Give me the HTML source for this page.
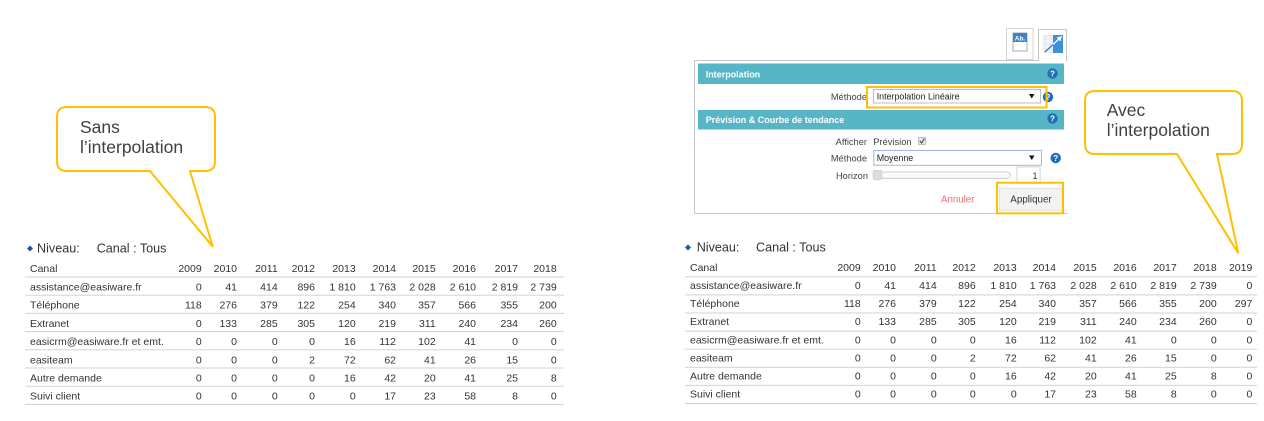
<!DOCTYPE html>
<html><head><meta charset="utf-8">
<style>
html,body{margin:0;padding:0;background:#fff;}
svg{display:block;}
text{font-family:"Liberation Sans",Arial,sans-serif;}
</style></head>
<body>
<svg width="1264" height="421" viewBox="0 0 1264 421" xmlns="http://www.w3.org/2000/svg">
<rect width="1264" height="421" fill="#fff"/>

<!-- ============ LEFT CALLOUT ============ -->
<path d="M67,107 H205 Q215,107 215,117 V161 Q215,171 205,171 H190 L212.7,246.7 L150,171 H67 Q57,171 57,161 V117 Q57,107 67,107 Z" fill="#fff" stroke="#FFC000" stroke-width="2"/>
<text x="80" y="133" font-size="17.5" fill="#404040">Sans</text>
<text x="80" y="153" font-size="17.5" fill="#404040">l’interpolation</text>

<!-- ============ LEFT TABLE ============ -->
<path d="M30,245.5 L33,248.5 L30,251.5 L27,248.5 Z" fill="#2255aa"/>
<text x="37" y="252.5" font-size="12.6" fill="#333">Niveau:</text>
<text x="96.7" y="252.5" font-size="12.6" fill="#333">Canal : Tous</text>

<g fill="#d2d2d2">
<rect x="25" y="276.5" width="539" height="1"/>
<rect x="25" y="294.7" width="539" height="1"/>
<rect x="25" y="312.9" width="539" height="1"/>
<rect x="25" y="331.1" width="539" height="1"/>
<rect x="25" y="349.3" width="539" height="1"/>
<rect x="25" y="367.5" width="539" height="1"/>
<rect x="25" y="385.7" width="539" height="1"/>
<rect x="25" y="403.9" width="539" height="1"/>
</g>

<g font-size="10.5" fill="#333">
<text x="30" y="272">Canal</text>
<text x="30" y="290.5">assistance@easiware.fr</text>
<text x="30" y="308.7">Téléphone</text>
<text x="30" y="326.9">Extranet</text>
<text x="30" y="345.1">easicrm@easiware.fr et emt.</text>
<text x="30" y="363.3">easiteam</text>
<text x="30" y="381.5">Autre demande</text>
<text x="30" y="399.7">Suivi client</text>
</g>
<g font-size="10.5" fill="#333" text-anchor="end">
<text y="272"><tspan x="201.7">2009</tspan><tspan x="237">2010</tspan><tspan x="277.7">2011</tspan><tspan x="315">2012</tspan><tspan x="355.7">2013</tspan><tspan x="396">2014</tspan><tspan x="435.7">2015</tspan><tspan x="476">2016</tspan><tspan x="518">2017</tspan><tspan x="556.7">2018</tspan></text>
<text y="290.5"><tspan x="201.7">0</tspan><tspan x="237">41</tspan><tspan x="277.7">414</tspan><tspan x="315">896</tspan><tspan x="355.7">1&#160;810</tspan><tspan x="396">1&#160;763</tspan><tspan x="435.7">2&#160;028</tspan><tspan x="476">2&#160;610</tspan><tspan x="518">2&#160;819</tspan><tspan x="556.7">2&#160;739</tspan></text>
<text y="308.7"><tspan x="201.7">118</tspan><tspan x="237">276</tspan><tspan x="277.7">379</tspan><tspan x="315">122</tspan><tspan x="355.7">254</tspan><tspan x="396">340</tspan><tspan x="435.7">357</tspan><tspan x="476">566</tspan><tspan x="518">355</tspan><tspan x="556.7">200</tspan></text>
<text y="326.9"><tspan x="201.7">0</tspan><tspan x="237">133</tspan><tspan x="277.7">285</tspan><tspan x="315">305</tspan><tspan x="355.7">120</tspan><tspan x="396">219</tspan><tspan x="435.7">311</tspan><tspan x="476">240</tspan><tspan x="518">234</tspan><tspan x="556.7">260</tspan></text>
<text y="345.1"><tspan x="201.7">0</tspan><tspan x="237">0</tspan><tspan x="277.7">0</tspan><tspan x="315">0</tspan><tspan x="355.7">16</tspan><tspan x="396">112</tspan><tspan x="435.7">102</tspan><tspan x="476">41</tspan><tspan x="518">0</tspan><tspan x="556.7">0</tspan></text>
<text y="363.3"><tspan x="201.7">0</tspan><tspan x="237">0</tspan><tspan x="277.7">0</tspan><tspan x="315">2</tspan><tspan x="355.7">72</tspan><tspan x="396">62</tspan><tspan x="435.7">41</tspan><tspan x="476">26</tspan><tspan x="518">15</tspan><tspan x="556.7">0</tspan></text>
<text y="381.5"><tspan x="201.7">0</tspan><tspan x="237">0</tspan><tspan x="277.7">0</tspan><tspan x="315">0</tspan><tspan x="355.7">16</tspan><tspan x="396">42</tspan><tspan x="435.7">20</tspan><tspan x="476">41</tspan><tspan x="518">25</tspan><tspan x="556.7">8</tspan></text>
<text y="399.7"><tspan x="201.7">0</tspan><tspan x="237">0</tspan><tspan x="277.7">0</tspan><tspan x="315">0</tspan><tspan x="355.7">0</tspan><tspan x="396">17</tspan><tspan x="435.7">23</tspan><tspan x="476">58</tspan><tspan x="518">8</tspan><tspan x="556.7">0</tspan></text>
</g>

<!-- ============ DIALOG ============ -->
<!-- tabs -->
<rect x="1006.5" y="28.5" width="26.5" height="31" fill="#fff" stroke="#d6d6d6"/>
<rect x="1013" y="33" width="14" height="18" fill="#fff" stroke="#9a9a9a" stroke-width="0.8"/>
<rect x="1013" y="33" width="14" height="9" fill="#3a85c9"/>
<text x="1020" y="40.5" font-size="6.5" font-weight="bold" fill="#fff" text-anchor="middle">Ab.</text>

<!-- panel -->
<path d="M1066.5,60.5 H1068" stroke="#c8c8c8"/>
<path d="M694.5,214 V60.5 H1038.5" fill="none" stroke="#c8c8c8"/>
<path d="M694.5,213.5 H1068" stroke="#c8c8c8"/>
<path d="M1038.5,60.5 V29.5 H1066.5 V60.5" fill="#fff" stroke="#c8c8c8"/>
<rect x="1043" y="35" width="20" height="18" fill="#e6ecf2"/>
<g stroke="#fff" stroke-width="0.8">
<line x1="1043" y1="41" x2="1053" y2="41"/><line x1="1043" y1="47" x2="1053" y2="47"/>
<line x1="1048" y1="35" x2="1048" y2="53"/>
</g>
<rect x="1053" y="35" width="10" height="18" fill="#3d8fd6"/>
<line x1="1045" y1="52" x2="1060" y2="38" stroke="#2f7fc8" stroke-width="1.3"/>
<line x1="1053" y1="44.5" x2="1060" y2="38" stroke="#fff" stroke-width="1.3"/>
<path d="M1062,36 L1056.5,37.5 L1060.5,41.5 Z" fill="#fff"/>

<!-- teal headers -->
<rect x="698" y="63.5" width="366" height="20.5" fill="#56b5c6"/>
<text x="705.7" y="77.3" font-size="9" font-weight="bold" fill="#fff">Interpolation</text>
<rect x="698" y="110" width="366" height="19.5" fill="#56b5c6"/>
<text x="705.7" y="122.8" font-size="9" font-weight="bold" fill="#fff">Prévision &amp; Courbe de tendance</text>

<g font-size="8" font-weight="bold" fill="#fff" text-anchor="middle">
<circle cx="1052.5" cy="73.5" r="5.2" fill="#1f6fb8"/><text x="1052.5" y="76.4">?</text>
<circle cx="1052.5" cy="118.5" r="5.2" fill="#1f6fb8"/><text x="1052.5" y="121.4">?</text>
<circle cx="1048" cy="97" r="5.2" fill="#1f6fb8"/><text x="1048" y="99.9">?</text>
<circle cx="1055.7" cy="158" r="5.2" fill="#1f6fb8"/><text x="1055.7" y="160.9">?</text>
</g>

<!-- labels -->
<g font-size="9.3" fill="#444" text-anchor="end">
<text x="867" y="100">Méthode</text>
<text x="867" y="145">Afficher</text>
<text x="867" y="161.5">Méthode</text>
<text x="868" y="179">Horizon</text>
</g>

<!-- select 1 -->
<rect x="873.5" y="89.5" width="167" height="13.5" fill="#fff" stroke="#bdbdbd"/>
<text x="876.7" y="99.3" font-size="8.9" fill="#222">Interpolation Linéaire</text>
<path d="M1029,94 L1034.5,94 L1031.75,98.5 Z" fill="#111"/>
<rect x="867" y="87" width="179.5" height="20.5" fill="none" stroke="#FFC000" stroke-width="2"/>

<!-- afficher prévision -->
<text x="873.3" y="145" font-size="9.3" fill="#444">Prévision</text>
<rect x="918.5" y="137.5" width="7" height="7" fill="#e6e6e6" stroke="#b5b5b5" stroke-width="0.8"/>
<path d="M919.8,141 L921.6,143 L924.4,138.6" fill="none" stroke="#444" stroke-width="1.1"/>

<!-- select 2 -->
<rect x="873.8" y="150.5" width="167.7" height="14.8" fill="#fff" stroke="#9bb9e6"/>
<text x="876.7" y="161" font-size="8.9" fill="#222">Moyenne</text>
<path d="M1029,155.5 L1034.5,155.5 L1031.75,160 Z" fill="#111"/>

<!-- slider -->
<rect x="873.5" y="172" width="137" height="6.3" rx="3.1" fill="#fafafa" stroke="#c4c4c4" stroke-width="0.8"/>
<rect x="873" y="170.3" width="9" height="9.5" rx="2" fill="#dcdcdc" stroke="#c8c8c8" stroke-width="0.6"/>
<rect x="1016.9" y="166.9" width="23.2" height="16.4" fill="#fff" stroke="#c8c8c8" stroke-width="0.8"/>
<text x="1037.5" y="179" font-size="9" fill="#333" text-anchor="end">1</text>

<!-- buttons -->
<text x="957.7" y="202.7" font-size="9.7" fill="#ef6b6b" text-anchor="middle">Annuler</text>
<rect x="999.3" y="188.3" width="62.7" height="22.4" fill="#f3f3f3" stroke="#dcdcdc" stroke-width="0.8"/>
<text x="1031" y="202.7" font-size="9.8" fill="#333" text-anchor="middle">Appliquer</text>
<rect x="997" y="182.7" width="66" height="30.6" fill="none" stroke="#FFC000" stroke-width="2"/>

<!-- ============ RIGHT CALLOUT ============ -->
<path d="M1095,91 H1232 Q1242,91 1242,101 V144 Q1242,154 1232,154 H1217 L1238.3,253.3 L1177,154 H1095 Q1085,154 1085,144 V101 Q1085,91 1095,91 Z" fill="#fff" stroke="#FFC000" stroke-width="2"/>
<text x="1106.7" y="116" font-size="17.5" fill="#404040">Avec</text>
<text x="1106.7" y="136" font-size="17.5" fill="#404040">l’interpolation</text>

<!-- ============ RIGHT TABLE ============ -->
<path d="M688,244.5 L691,247.5 L688,250.5 L685,247.5 Z" fill="#2255aa"/>
<text x="696.7" y="251.7" font-size="12.6" fill="#333">Niveau:</text>
<text x="756" y="251.7" font-size="12.6" fill="#333">Canal : Tous</text>

<g fill="#d2d2d2">
<rect x="685" y="276.3" width="572" height="1"/>
<rect x="685" y="294.4" width="572" height="1"/>
<rect x="685" y="312.5" width="572" height="1"/>
<rect x="685" y="330.6" width="572" height="1"/>
<rect x="685" y="348.7" width="572" height="1"/>
<rect x="685" y="366.8" width="572" height="1"/>
<rect x="685" y="384.9" width="572" height="1"/>
<rect x="685" y="403" width="572" height="1"/>
</g>

<g font-size="10.5" fill="#333">
<text x="690" y="271">Canal</text>
<text x="690" y="289">assistance@easiware.fr</text>
<text x="690" y="307.1">Téléphone</text>
<text x="690" y="325.2">Extranet</text>
<text x="690" y="343.3">easicrm@easiware.fr et emt.</text>
<text x="690" y="361.4">easiteam</text>
<text x="690" y="379.5">Autre demande</text>
<text x="690" y="397.6">Suivi client</text>
</g>
<g font-size="10.5" fill="#333" text-anchor="end">
<text y="271"><tspan x="860.7">2009</tspan><tspan x="896">2010</tspan><tspan x="936.7">2011</tspan><tspan x="975.7">2012</tspan><tspan x="1016.7">2013</tspan><tspan x="1056">2014</tspan><tspan x="1096.7">2015</tspan><tspan x="1136.7">2016</tspan><tspan x="1176.7">2017</tspan><tspan x="1216.7">2018</tspan><tspan x="1252.3">2019</tspan></text>
<text y="289"><tspan x="860.7">0</tspan><tspan x="896">41</tspan><tspan x="936.7">414</tspan><tspan x="975.7">896</tspan><tspan x="1016.7">1&#160;810</tspan><tspan x="1056">1&#160;763</tspan><tspan x="1096.7">2&#160;028</tspan><tspan x="1136.7">2&#160;610</tspan><tspan x="1176.7">2&#160;819</tspan><tspan x="1216.7">2&#160;739</tspan><tspan x="1252.3">0</tspan></text>
<text y="307.1"><tspan x="860.7">118</tspan><tspan x="896">276</tspan><tspan x="936.7">379</tspan><tspan x="975.7">122</tspan><tspan x="1016.7">254</tspan><tspan x="1056">340</tspan><tspan x="1096.7">357</tspan><tspan x="1136.7">566</tspan><tspan x="1176.7">355</tspan><tspan x="1216.7">200</tspan><tspan x="1252.3">297</tspan></text>
<text y="325.2"><tspan x="860.7">0</tspan><tspan x="896">133</tspan><tspan x="936.7">285</tspan><tspan x="975.7">305</tspan><tspan x="1016.7">120</tspan><tspan x="1056">219</tspan><tspan x="1096.7">311</tspan><tspan x="1136.7">240</tspan><tspan x="1176.7">234</tspan><tspan x="1216.7">260</tspan><tspan x="1252.3">0</tspan></text>
<text y="343.3"><tspan x="860.7">0</tspan><tspan x="896">0</tspan><tspan x="936.7">0</tspan><tspan x="975.7">0</tspan><tspan x="1016.7">16</tspan><tspan x="1056">112</tspan><tspan x="1096.7">102</tspan><tspan x="1136.7">41</tspan><tspan x="1176.7">0</tspan><tspan x="1216.7">0</tspan><tspan x="1252.3">0</tspan></text>
<text y="361.4"><tspan x="860.7">0</tspan><tspan x="896">0</tspan><tspan x="936.7">0</tspan><tspan x="975.7">2</tspan><tspan x="1016.7">72</tspan><tspan x="1056">62</tspan><tspan x="1096.7">41</tspan><tspan x="1136.7">26</tspan><tspan x="1176.7">15</tspan><tspan x="1216.7">0</tspan><tspan x="1252.3">0</tspan></text>
<text y="379.5"><tspan x="860.7">0</tspan><tspan x="896">0</tspan><tspan x="936.7">0</tspan><tspan x="975.7">0</tspan><tspan x="1016.7">16</tspan><tspan x="1056">42</tspan><tspan x="1096.7">20</tspan><tspan x="1136.7">41</tspan><tspan x="1176.7">25</tspan><tspan x="1216.7">8</tspan><tspan x="1252.3">0</tspan></text>
<text y="397.6"><tspan x="860.7">0</tspan><tspan x="896">0</tspan><tspan x="936.7">0</tspan><tspan x="975.7">0</tspan><tspan x="1016.7">0</tspan><tspan x="1056">17</tspan><tspan x="1096.7">23</tspan><tspan x="1136.7">58</tspan><tspan x="1176.7">8</tspan><tspan x="1216.7">0</tspan><tspan x="1252.3">0</tspan></text>
</g>
</svg>
</body></html>
